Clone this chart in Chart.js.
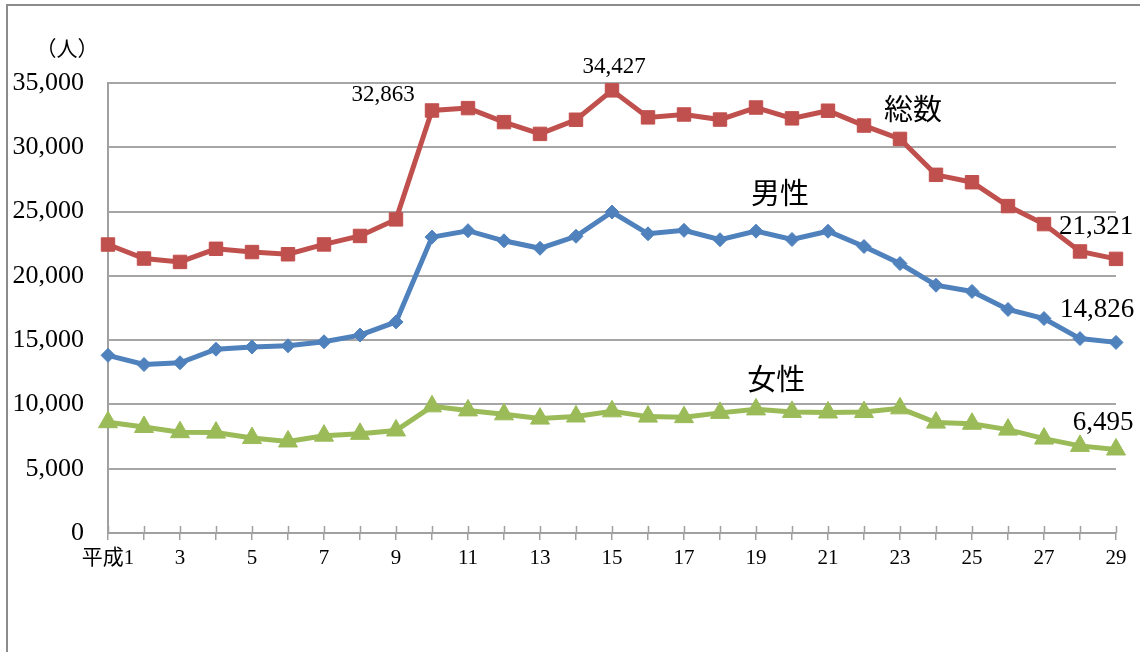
<!DOCTYPE html>
<html lang="ja">
<head>
<meta charset="utf-8">
<title>自殺者数の推移</title>
<script src="https://cdn.jsdelivr.net/npm/chart.js@4/dist/chart.umd.min.js"></script>
<style>
  html, body { margin: 0; padding: 0; background: #fff; }
  #wrap { position: relative; width: 1140px; height: 652px; }
</style>
</head>
<body>
<div id="wrap"><canvas id="myChart" width="1140" height="652"></canvas></div>
<script>
// 平成1年〜29年
const years = ["平成1", "2", "3", "4", "5", "6", "7", "8", "9", "10", "11", "12", "13", "14", "15",
  "16", "17", "18", "19", "20", "21", "22", "23", "24", "25", "26", "27", "28", "29"];
const totalData = [22436, 21346, 21084, 22104, 21851, 21679, 22445, 23104, 24391, 32863, 33048, 31957,
  31042, 32143, 34427, 32325, 32552, 32155, 33093, 32249, 32845, 31690, 30651, 27858, 27283, 25427,
  24025, 21897, 21321];
const maleData = [13818, 13102, 13242, 14296, 14468, 14560, 14874, 15393, 16416, 23013, 23512, 22727,
  22144, 23080, 24963, 23272, 23540, 22813, 23478, 22831, 23472, 22283, 20955, 19273, 18787, 17386,
  16681, 15121, 14826];
const femaleData = [8618, 8244, 7842, 7808, 7383, 7119, 7571, 7711, 7975, 9850, 9536, 9230, 8898, 9063,
  9464, 9053, 9012, 9342, 9615, 9418, 9373, 9407, 9696, 8585, 8496, 8041, 7344, 6776, 6495];
const seriesNames = ["総数", "男性", "女性"];
const yMax = 35000;
const yStep = 5000;

const numFont = '"Liberation Serif", "Noto Sans CJK JP", serif';
const jpFont = '"Noto Sans CJK JP", sans-serif';

function fmt(v) {
  return v.toLocaleString("en-US");
}

// 外枠と（人）、x軸の目盛り（上側）
const framePlugin = {
  id: "frame",
  beforeDraw(chart) {
    const ctx = chart.ctx;
    ctx.save();
    ctx.strokeStyle = "#8c8c8c";
    ctx.lineWidth = 2;
    ctx.beginPath();
    ctx.moveTo(7, 652);
    ctx.lineTo(7, 5);
    ctx.lineTo(1140, 5);
    ctx.stroke();
    ctx.fillStyle = "#000";
    ctx.font = "21px " + jpFont;
    ctx.textAlign = "center";
    ctx.textBaseline = "middle";
    ctx.fillText("（人）", 67, 48);
    ctx.restore();
  },
  afterDraw(chart) {
    const ctx = chart.ctx;
    const x = chart.scales.x;
    const bottom = chart.chartArea.bottom;
    ctx.save();
    ctx.strokeStyle = "#a0a0a0";
    ctx.lineWidth = 1.5;
    ctx.beginPath();
    for (let i = 0; i < years.length; i++) {
      const px = Math.round(x.getPixelForValue(i)) + 0.5;
      ctx.moveTo(px, bottom - 7);
      ctx.lineTo(px, bottom);
    }
    ctx.stroke();
    ctx.restore();
  }
};

// データラベルと系列名
const labelPlugin = {
  id: "labels",
  afterDatasetsDraw(chart) {
    const ctx = chart.ctx;
    const xs = chart.scales.x;
    const ys = chart.scales.y;
    ctx.save();
    ctx.fillStyle = "#000";
    ctx.textAlign = "center";
    ctx.textBaseline = "middle";

    // 値ラベル: [系列, index, dx, dy, size]
    const valueLabels = [
      [0, 9, -49, -16, 23],
      [0, 14, 2, -23, 23],
      [0, 28, -20, -32, 27],
      [1, 28, -19, -32, 27],
      [2, 28, -13, -27, 27]
    ];
    valueLabels.forEach(function (l) {
      const meta = chart.getDatasetMeta(l[0]);
      const pt = meta.data[l[1]];
      const v = chart.data.datasets[l[0]].data[l[1]];
      ctx.font = l[4] + "px " + numFont;
      ctx.fillText(fmt(v), pt.x + l[2], pt.y + l[3]);
    });

    // 系列名（カテゴリ位置, 値）
    const namePos = [[22.36, 32980], [18.67, 26440], [18.56, 11980]];
    ctx.font = "29px " + jpFont;
    seriesNames.forEach(function (name, i) {
      ctx.fillText(name, xs.getPixelForValue(namePos[i][0]), ys.getPixelForValue(namePos[i][1]));
    });
    ctx.restore();
  }
};

const data = {
  labels: years,
  datasets: [
    {
      label: seriesNames[0],
      data: totalData,
      borderColor: "#c0504d",
      backgroundColor: "#c0504d",
      borderWidth: 5,
      pointStyle: "rect",
      pointRadius: 9.5,
      pointBorderWidth: 1,
      tension: 0
    },
    {
      label: seriesNames[1],
      data: maleData,
      borderColor: "#4f81bd",
      backgroundColor: "#4f81bd",
      borderWidth: 5,
      pointStyle: "rectRot",
      pointRadius: 7,
      pointBorderWidth: 1,
      tension: 0
    },
    {
      label: seriesNames[2],
      data: femaleData,
      borderColor: "#9bbb59",
      backgroundColor: "#9bbb59",
      borderWidth: 5,
      pointStyle: "triangle",
      pointRadius: 11,
      pointBorderWidth: 1,
      tension: 0
    }
  ]
};

const config = {
  type: "line",
  data: data,
  options: {
    responsive: false,
    animation: false,
    layout: {
      padding: { top: 83, right: 24, bottom: 0, left: 0 }
    },
    plugins: {
      legend: { display: false },
      tooltip: { enabled: false }
    },
    scales: {
      x: {
        offset: false,
        grid: {
          drawOnChartArea: false,
          drawTicks: true,
          tickLength: 7,
          color: "#a0a0a0",
          lineWidth: 1.5
        },
        border: { display: true, color: "#a0a0a0", width: 2 },
        ticks: {
          autoSkip: false,
          maxRotation: 0,
          padding: 6,
          color: "#000",
          font: { family: numFont, size: 21 },
          callback: function (value, index) {
            return index % 2 === 0 ? years[index] : "";
          }
        },
        afterFit: function (scale) {
          scale.height = 119;
        }
      },
      y: {
        min: 0,
        max: yMax,
        grid: {
          drawTicks: false,
          color: "#a6a6a6",
          lineWidth: 2
        },
        border: { display: true, color: "#a0a0a0", width: 2 },
        ticks: {
          stepSize: yStep,
          padding: 24,
          color: "#000",
          font: { family: numFont, size: 26 },
          callback: function (value) {
            return fmt(value);
          }
        },
        afterFit: function (scale) {
          scale.width = 108;
        }
      }
    }
  },
  plugins: [framePlugin, labelPlugin]
};

document.addEventListener("DOMContentLoaded", function () {
  const chartElement = document.getElementById("myChart");
  if (chartElement) {
    new Chart(chartElement, config);
  }
});
</script>
</body>
</html>
